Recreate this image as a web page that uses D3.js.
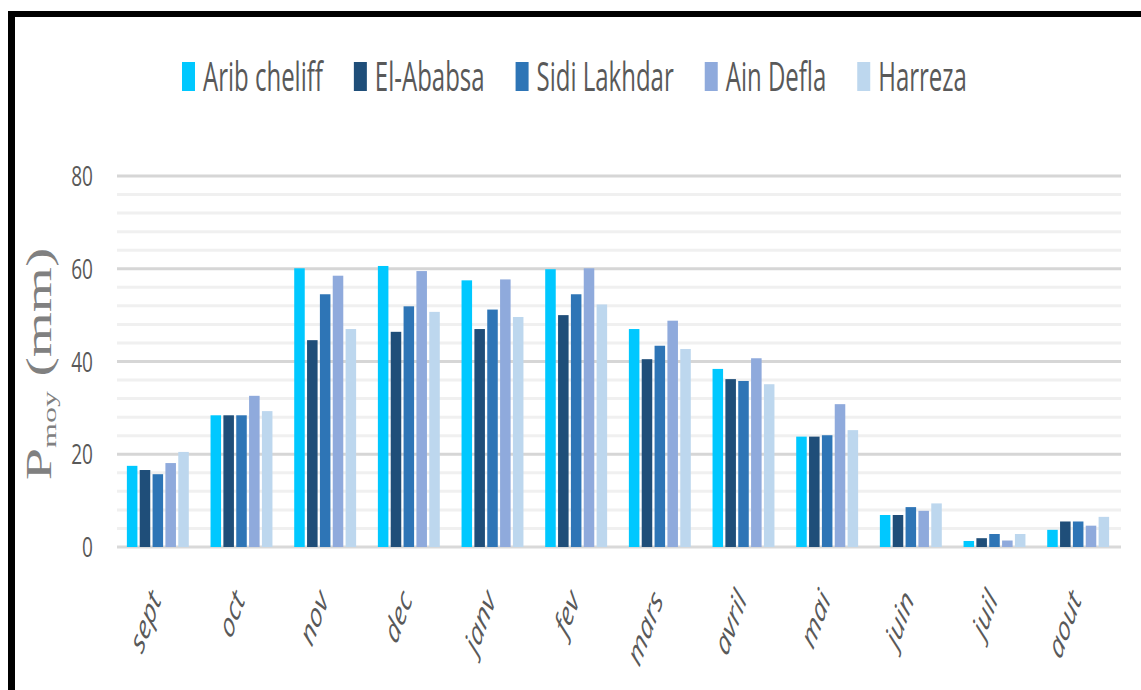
<!DOCTYPE html>
<html><head><meta charset="utf-8">
<script src="https://cdn.jsdelivr.net/npm/d3@7"></script>
<style>body{margin:0;background:#fff;overflow:hidden}</style>
</head><body><svg id="c" width="1141" height="690"></svg>
<script>
const months = ["sept","oct","nov","dec","janv","fev","mars","avril","mai","juin","juil","aout"];
const seriesNames = ["Arib cheliff","El-Ababsa","Sidi Lakhdar","Ain Defla","Harreza"];
const aribCheliff = [17.5,28.4,60.1,60.6,57.5,59.9,47.0,38.4,23.8,6.9,1.3,3.7];
const elAbabsa    = [16.6,28.4,44.6,46.4,47.0,50.0,40.5,36.2,23.8,6.9,1.9,5.5];
const sidiLakhdar = [15.7,28.4,54.5,51.9,51.2,54.5,43.4,35.8,24.1,8.6,2.8,5.5];
const ainDefla    = [18.1,32.6,58.5,59.5,57.7,60.1,48.8,40.7,30.8,7.8,1.4,4.6];
const harreza     = [20.5,29.3,47.0,50.7,49.6,52.3,42.7,35.1,25.2,9.4,2.8,6.5];
const seriesValues = [aribCheliff, elAbabsa, sidiLakhdar, ainDefla, harreza];
const colors = ["#00c8ff","#1f4e79","#2e75b6","#8faadc","#bdd7ee"];
const yTicks = [0,20,40,60,80];
const minorTicks = d3.range(0,81,4).filter(v => v % 20 !== 0);

const K = 0.6; // horizontal squeeze of the source picture
const svg = d3.select("#c");
const textCol = "#595959";

// frame
svg.append("rect").attr("x",8).attr("y",11).attr("width",1133).attr("height",6).attr("fill","#000");
svg.append("rect").attr("x",8).attr("y",11).attr("width",7).attr("height",679).attr("fill","#000");

const x0 = d3.scaleBand().domain(months).range([116,1120]).paddingInner(0.26).paddingOuter(0.13);
const x1 = d3.scaleBand().domain(seriesNames).range([0,x0.bandwidth()]).paddingInner(0.18);
const y = d3.scaleLinear().domain([0,80]).range([547,176]);

// gridlines
svg.append("g").selectAll("line").data(minorTicks).join("line")
  .attr("x1",117).attr("x2",1121).attr("y1",d=>y(d)).attr("y2",d=>y(d))
  .attr("stroke","#f0f0f0").attr("stroke-width",3);
svg.append("g").selectAll("line").data(yTicks).join("line")
  .attr("x1",117).attr("x2",1121).attr("y1",d=>y(d)).attr("y2",d=>y(d))
  .attr("stroke",d=>d===0?"#d9d9d9":"#d6d6d6").attr("stroke-width",3);

// bars
const g = svg.append("g");
seriesNames.forEach((s,si)=>{
  g.append("g").selectAll("rect").data(seriesValues[si]).join("rect")
    .attr("x",(d,i)=>x0(months[i])+x1(s))
    .attr("width",x1.bandwidth())
    .attr("y",d=>y(d))
    .attr("height",d=>y(0)-y(d))
    .attr("fill",colors[si]);
});

// y tick labels
svg.append("g").selectAll("text").data(yTicks).join("text")
  .attr("transform",d=>`translate(93,${y(d)+10}) scale(0.68,1)`)
  .attr("text-anchor","end")
  .attr("font-family","Open Sans").attr("font-size",28).attr("fill",textCol)
  .text(d=>d);

// x tick labels
svg.append("g").selectAll("text").data(months).join("text")
  .attr("transform",d=>`translate(${x0(d)+x0.bandwidth()/2+4},600) scale(${K},1) rotate(-59)`)
  .attr("text-anchor","end")
  .attr("font-family","Open Sans").attr("font-style","italic").attr("font-size",35).attr("fill",textCol)
  .text(d=>d);

// y title
const yt = svg.append("text")
  .attr("transform",`translate(51,364) scale(${K},1) rotate(-90)`)
  .attr("text-anchor","middle")
  .attr("font-family","Liberation Serif").attr("font-size",58).attr("fill","#808080");
yt.append("tspan").text("P");
yt.append("tspan").attr("font-size",32).attr("dy",8).text("moy");
yt.append("tspan").attr("dy",-8).text("  (mm)");

// legend
let lx = 182;
const leg = svg.append("g");
seriesNames.forEach((s,si)=>{
  leg.append("rect").attr("x",lx).attr("y",62).attr("width",13).attr("height",29).attr("fill",colors[si]);
  const t = leg.append("text")
    .attr("transform",`translate(${lx+21},91) scale(${K},1)`)
    .attr("font-family","Open Sans").attr("font-size",40).attr("fill",textCol)
    .text(s);
  const w = t.node().getComputedTextLength()*K;
  lx += 21 + w + 31;
});
</script></body></html>
